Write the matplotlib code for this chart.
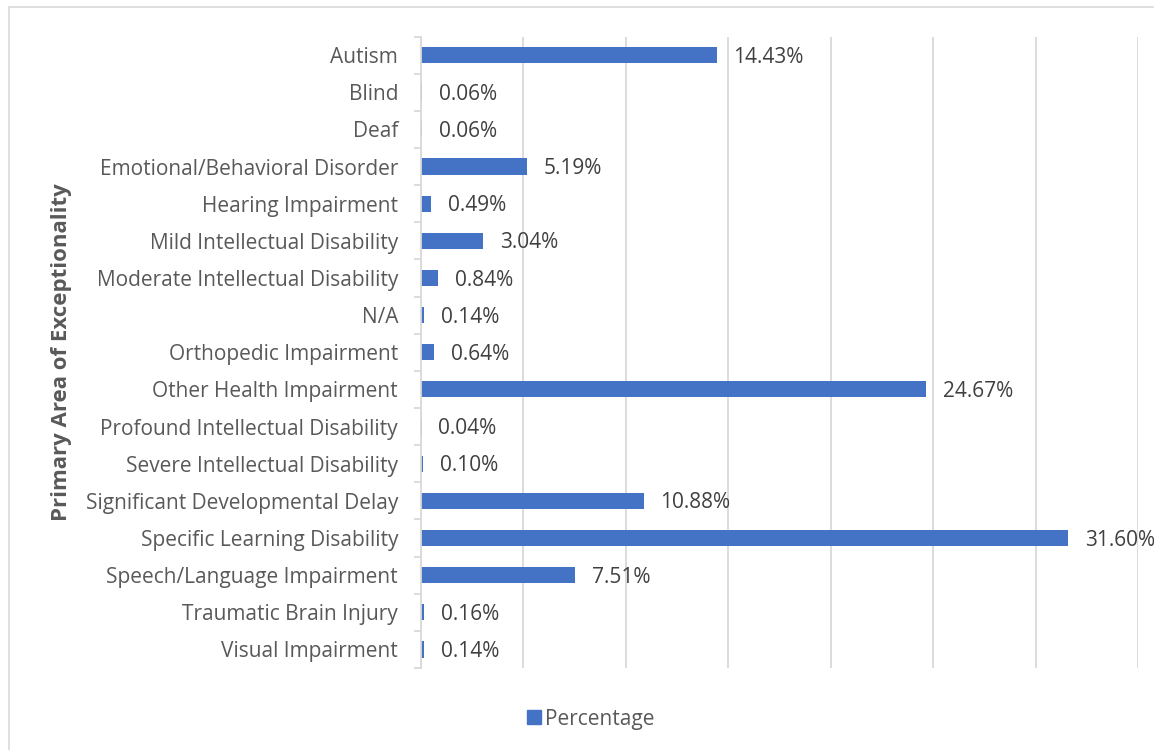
import matplotlib
matplotlib.use("Agg")
import matplotlib.pyplot as plt
from matplotlib.patches import Rectangle
from matplotlib.lines import Line2D

categories = ["Autism", "Blind", "Deaf", "Emotional/Behavioral Disorder", "Hearing Impairment",
              "Mild Intellectual Disability", "Moderate Intellectual Disability", "N/A",
              "Orthopedic Impairment", "Other Health Impairment", "Profound Intellectual Disability",
              "Severe Intellectual Disability", "Significant Developmental Delay",
              "Specific Learning Disability", "Speech/Language Impairment",
              "Traumatic Brain Injury", "Visual Impairment"]
percentages = [14.43, 0.06, 0.06, 5.19, 0.49, 3.04, 0.84, 0.14, 0.64, 24.67, 0.04, 0.10,
               10.88, 31.60, 7.51, 0.16, 0.14]
series_name = "Percentage"
y_label = "Primary Area of Exceptionality"

plt.rcParams['font.family'] = ['Open Sans', 'DejaVu Sans']

W, H = 1154, 750
fig = plt.figure(figsize=(W / 100, H / 100), dpi=100)
fig.patch.set_facecolor("white")

# outer chart frame
fig.add_artist(Rectangle((8.5 / W, -0.1), 1.2, 1 - 7.5 / H + 0.1, transform=fig.transFigure,
                         fill=False, edgecolor="#D9D9D9", linewidth=1.2))

ax = fig.add_axes([421 / W, 1 - 668 / H, (1138 - 421) / W, (668 - 36.5) / H])
bar_color = "#4472C4"
n = len(categories)
ypos = list(range(n))
ax.barh(ypos, percentages, height=0.435, color=bar_color, zorder=3)
ax.set_ylim(n - 0.5, -0.5)
ax.set_xlim(0, 35)
ax.set_xticks([0, 5, 10, 15, 20, 25, 30, 35])
ax.tick_params(axis='x', length=0, labelbottom=False)
ax.grid(axis='x', color="#D9D9D9", linewidth=1.3, zorder=0)
for s in ["top", "right", "bottom"]:
    ax.spines[s].set_visible(False)
ax.spines["left"].set_color("#D9D9D9")
ax.spines["left"].set_linewidth(1.3)
ax.spines["left"].set_zorder(4)

ax.set_yticks(ypos)
ax.set_yticklabels(categories, fontsize=15, color="#595959")
ax.tick_params(axis='y', length=0, pad=16.5)
# category boundary ticks (Excel style)
ax.set_yticks([i - 0.5 for i in range(n + 1)], minor=True)
ax.tick_params(axis='y', which='minor', length=5, color="#D9D9D9", width=1.3)

for y, v in zip(ypos, percentages):
    ax.annotate(f"{v:.2f}%", (v, y), xytext=(12, -1.5), textcoords="offset points",
                va="center", ha="left", fontsize=15, color="#404040")

fig.text(62 / W, 1 - 352 / H, y_label, rotation=90, ha="center", va="center",
         fontsize=16, fontweight="bold", color="#595959")

handle = Line2D([], [], marker="s", linestyle="none", markersize=9.5,
                markerfacecolor=bar_color, markeredgecolor=bar_color)
fig.legend([handle], [series_name], loc="center", bbox_to_anchor=(584 / W, 1 - 719 / H),
           frameon=False, fontsize=15, handletextpad=-0.45, labelcolor="#595959")

fig.savefig("out.png", dpi=100)
